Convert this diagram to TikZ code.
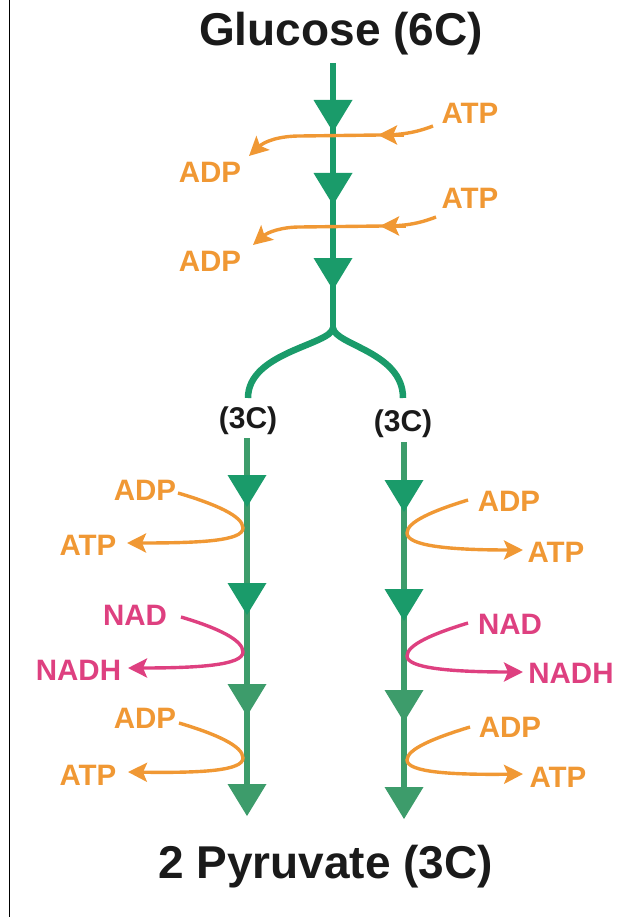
\documentclass[tikz,border=0pt]{standalone}
\usepackage{fontspec}
\setmainfont{Liberation Sans}
\usetikzlibrary{arrows.meta}
\definecolor{gA}{RGB}{26,155,106}
\definecolor{gB}{RGB}{61,156,107}
\definecolor{orng}{RGB}{240,152,52}
\definecolor{mgn}{RGB}{222,64,128}
\definecolor{ink}{RGB}{26,26,26}
\tikzset{
  titletext/.style={font=\fontsize{46}{50}\selectfont\bfseries, text=ink, anchor=base, inner sep=0pt},
  lbl/.style={font=\fontsize{29.5}{32}\selectfont\bfseries, anchor=base, inner sep=0pt},
  cclbl/.style={font=\fontsize{30}{32}\selectfont\bfseries, text=ink, anchor=base, inner sep=0pt},
  flow/.style={line width=3.4pt, -{Stealth[length=19pt,width=19pt,inset=4pt]}},
  trunkline/.style={line width=6.5pt},
  tri/.pic={\fill[pic actions] (-19.5,-32) -- (19.5,-32) -- (0,0) -- cycle;}
}
\begin{document}
\begin{tikzpicture}[x=1pt,y=-1pt]
\useasboundingbox (0,0) rectangle (634,917);
\draw[line width=1.2pt, black] (9.5,0) -- (9.5,917);

% titles
\node[titletext] (glc) at (341,46) {Glucose (6C)};
\node[titletext] (pyr) at (325.5,878) {2 Pyruvate (3C)};
\node[cclbl] (ccL) at (248,428) {(3C)};
\node[cclbl] (ccR) at (403,431) {(3C)};

% trunk
\coordinate (t0) at (333,63);
\coordinate (tj) at (333,328);
\coordinate (bL) at (248,398);
\coordinate (bR) at (403,398);
\draw[gA, trunkline] (t0) -- (tj);
\draw[gA, trunkline] (tj) .. controls (331,345) and (248,352) .. (bL);
\draw[gA, trunkline] (tj) .. controls (335,345) and (403,352) .. (bR);
\pic[fill=gA] at (333,132) {tri};
\pic[fill=gA] at (333,205) {tri};
\pic[fill=gA] at (333,290) {tri};

% branches
\coordinate (L0) at (247,438);
\coordinate (L1) at (247,790);
\coordinate (R0) at (404,442);
\coordinate (R1) at (404,792);
\draw[gB, trunkline] (L0) -- (L1);
\draw[gB, trunkline] (R0) -- (R1);
\pic[fill=gA] at (247,507) {tri};
\pic[fill=gA] at (247,615) {tri};
\pic[fill=gB] at (247,716) {tri};
\pic[fill=gB] at (247,816) {tri};
\pic[fill=gA] at (404,512) {tri};
\pic[fill=gA] at (404,621) {tri};
\pic[fill=gB] at (404,722) {tri};
\pic[fill=gB] at (404,819) {tri};

% top labels
\node[lbl, text=orng] (atp1) at (470,124) {ATP};
\node[lbl, text=orng] (adp1) at (210,183) {ADP};
\node[lbl, text=orng] (atp2) at (470,208) {ATP};
\node[lbl, text=orng] (adp2) at (210,271) {ADP};

\coordinate (a1s) at (433,126);
\coordinate (a1m) at (380,135);
\coordinate (a1e) at (249,156);
\draw[orng, line width=3.4pt] (a1s) .. controls (415,133) and (400,135) .. (a1m) -- (300,136);
\draw[orng, flow] (300,136) .. controls (280,136) and (265,141) .. (a1e);
\draw[orng, flow] (404,135) -- (378,135);

\coordinate (a2s) at (436,217);
\coordinate (a2m) at (383,226);
\coordinate (a2e) at (253,245);
\draw[orng, line width=3.4pt] (a2s) .. controls (418,224) and (404,226) .. (a2m) -- (300,227);
\draw[orng, flow] (300,227) .. controls (282,227) and (268,232) .. (a2e);
\draw[orng, flow] (406,226) -- (380,226);

% left side labels
\node[lbl, text=orng] (ladp1) at (145,500) {ADP};
\node[lbl, text=orng] (latp1) at (88,555) {ATP};
\node[lbl, text=mgn]  (lnad)  at (135,625) {NAD};
\node[lbl, text=mgn]  (lnadh) at (78.5,680) {NADH};
\node[lbl, text=orng] (ladp2) at (145,728) {ADP};
\node[lbl, text=orng] (latp2) at (88,785) {ATP};

\draw[orng, flow] (178,493) .. controls (215,504) and (243,516) .. (243,528)
  .. controls (243,541) and (200,543) .. (127,543);
\draw[mgn, flow] (181,617) .. controls (218,628) and (243,640) .. (243,652)
  .. controls (243,665) and (200,668) .. (128,668);
\draw[orng, flow] (179,723) .. controls (216,734) and (243,746) .. (243,758)
  .. controls (243,771) and (200,773) .. (128,772);

% right side labels
\node[lbl, text=orng] (radp1) at (509,511) {ADP};
\node[lbl, text=orng] (ratp1) at (556,562) {ATP};
\node[lbl, text=mgn]  (rnad)  at (510,634) {NAD};
\node[lbl, text=mgn]  (rnadh) at (571,683) {NADH};
\node[lbl, text=orng] (radp2) at (510,737) {ADP};
\node[lbl, text=orng] (ratp2) at (558,787) {ATP};

\draw[orng, flow] (468,500) .. controls (432,511) and (407,522) .. (407,533)
  .. controls (407,546) and (450,550) .. (523,550);
\draw[mgn, flow] (468,623) .. controls (432,634) and (407,645) .. (407,656)
  .. controls (407,668) and (450,672) .. (523,672);
\draw[orng, flow] (470,727) .. controls (434,738) and (407,749) .. (407,760)
  .. controls (407,772) and (450,775) .. (523,774);
\end{tikzpicture}
\end{document}
